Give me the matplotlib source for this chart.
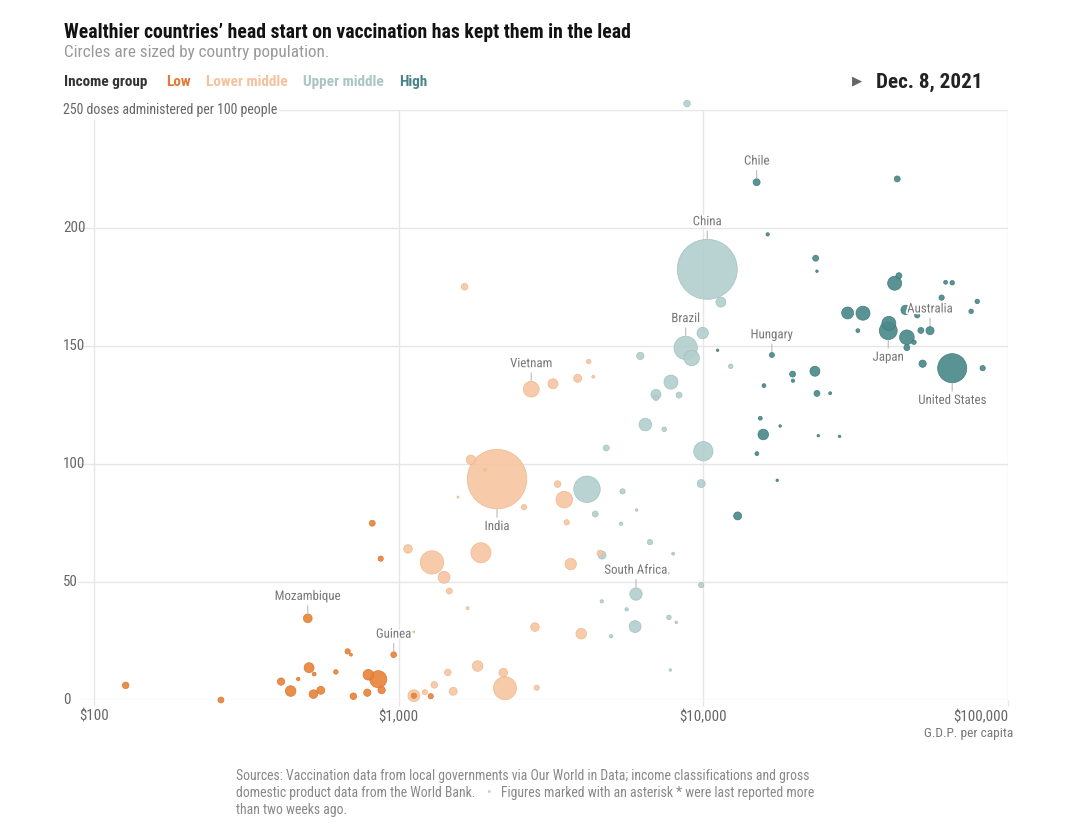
import numpy as np
import matplotlib

matplotlib.use("Agg")
import matplotlib.pyplot as plt
import matplotlib.patheffects as pe
from matplotlib import font_manager
from matplotlib.transforms import blended_transform_factory

# --- data (GDP per capita in $, doses per 100 people, population in millions)
low_gdp = [127, 261, 819, 873, 503, 963, 680, 697, 508, 528, 468, 411, 442, 525, 555, 622, 710, 789, 795, 857, 879, 1122, 1274]
low_doses = [6.2, 0.0, 74.9, 59.9, 34.6, 19.2, 20.6, 19.2, 13.7, 11.0, 8.9, 7.8, 3.8, 2.5, 4.1, 11.9, 1.6, 3.1, 10.7, 8.8, 4.2, 1.8, 1.6]
low_pop = [17, 14, 14, 11, 30, 13, 11, 3.5, 39, 6, 5, 21, 44, 29, 25, 8, 17, 21, 44, 115, 21, 11, 11]

lm_gdp = [2103, 2578, 1073, 1286, 1862, 1409, 1466, 1684, 1120, 2801, 1816, 1449, 1309, 1510, 1122, 1219, 2204,
          2233, 2838, 3973, 3670, 3560, 4580, 1646, 2724, 3210, 3868, 4204, 4353, 1727, 1920, 1566, 3324, 3496]
lm_doses = [93.6, 81.7, 64.0, 58.3, 62.4, 52.0, 46.2, 38.9, 28.9, 30.9, 14.4, 11.7, 6.4, 3.7, 1.8, 3.3, 11.6,
            5.0, 5.2, 28.1, 57.6, 75.3, 62.2, 175.1, 131.7, 134.0, 136.3, 143.4, 137.0, 101.8, 97.6, 86.0, 91.5, 84.9]
lm_pop = [1390, 11, 29, 214, 157, 56, 14, 3.5, 1.6, 29, 44, 17, 17, 25, 56, 11, 29,
          207, 11, 44, 51, 11, 14, 17, 98, 39, 25, 8, 3.5, 35, 3.5, 1.6, 17, 108]

um_gdp = [10300, 11420, 9950, 8750, 9160, 6210, 12300, 7830, 6990, 6990, 8320, 6450, 7440, 4800, 10000, 4150, 9840, 5430,
          6040, 4420, 5370, 6680, 7960, 4650, 6010, 9840, 4640, 5600, 7710, 8150, 5970, 4980, 7790, 8840, 7670]
um_doses = [182.5, 168.6, 155.5, 149.2, 144.9, 145.8, 141.4, 134.7, 129.5, 128.0, 129.2, 116.7, 114.7, 106.8, 105.4, 89.3,
            91.7, 88.4, 80.5, 78.8, 74.7, 66.9, 62.0, 61.4, 44.9, 48.7, 41.8, 38.4, 35.0, 32.9, 31.1, 27.0, 12.7, 252.7, 53.7]
um_pop = [1410, 39, 51, 213, 93, 21, 8, 77, 39, 11, 14, 62, 8, 14, 146, 274, 25, 11,
          2.6, 14, 4.5, 11, 3.5, 25, 60, 11, 4.5, 4.5, 8, 2.6, 56, 4.5, 2.6, 17, 1.6]

hi_gdp = [14960, 16260, 43300, 23370, 23600, 43850, 42460, 62400, 65600, 60540, 79250, 75680, 29760, 33420, 46130,
          50350, 32150, 40640, 40450, 51760, 55460, 46560, 49130, 46560, 52450, 65600, 82570, 11140, 16790, 19630,
          19680, 23240, 15810, 23600, 26080, 15380, 17870, 15730, 14990, 23840, 28000, 17480, 12960]
hi_doses = [219.4, 197.3, 220.8, 187.2, 181.7, 179.8, 176.6, 177.0, 176.8, 170.5, 168.9, 164.7, 164.0, 163.9, 165.3,
            163.0, 156.5, 159.6, 156.5, 156.6, 156.5, 153.7, 151.6, 149.3, 142.5, 140.6, 140.6, 148.2, 146.2, 138.1,
            135.3, 139.3, 133.2, 129.9, 130.0, 119.4, 116.1, 112.5, 104.4, 112.0, 111.7, 93.1, 78.0]
hi_pop = [19, 4.5, 14, 14, 2.6, 14, 77, 6, 8, 11, 8, 8, 56, 77, 35,
          11, 6, 77, 126, 14, 26, 84, 8, 14, 21, 332, 11, 2.6, 10, 14,
          4.5, 39, 6, 14, 3.5, 6, 2.6, 44, 6, 2.6, 2.6, 2.6, 25]

groups = ["Low", "Lower middle", "Upper middle", "High"]
group_colors = ["#e9853d", "#f7c7a2", "#b3cfce", "#4c8a8b"]
edge_colors = ["#d9732d", "#eeb58c", "#9fbebd", "#3d7677"]
legend_colors = ["#e07b39", "#f4c29e", "#a9c6c5", "#4a8486"]

# labelled countries: (name, group index, point index, side)
labels = [
    ("Chile", 3, 0, "above"),
    ("China", 2, 0, "above"),
    ("Brazil", 2, 3, "above"),
    ("Vietnam", 1, 24, "above"),
    ("India", 1, 0, "below"),
    ("Hungary", 3, 28, "above"),
    ("Japan", 3, 18, "below"),
    ("Australia", 3, 20, "above"),
    ("United States", 3, 25, "below"),
    ("South Africa", 2, 24, "above"),
    ("Mozambique", 0, 4, "above"),
    ("Guinea", 0, 5, "above"),
]

x_ticks = [100, 1000, 10000, 100000]
x_tick_labels = ["$100", "$1,000", "$10,000", "$100,000"]
y_ticks = [0, 50, 100, 150, 200, 250]

# --- fonts
available = {f.name for f in font_manager.fontManager.ttflist}


def pick(*names):
    for n in names:
        if n in available:
            return n
    return "DejaVu Sans"


FONT = pick("Liberation Sans Narrow", "Roboto Condensed", "Roboto", "Liberation Sans")
plt.rcParams["font.family"] = [FONT, "DejaVu Sans"]

W, H = 1081, 832
fig = plt.figure(figsize=(W / 100, H / 100), dpi=100)
fig.patch.set_facecolor("white")


def fx(px):
    return px / W


def fy(py):
    return 1 - py / H


ax = fig.add_axes([fx(78), fy(700), fx(1008) - fx(78), fy(110) - fy(700)])
ax.set_xscale("log")
ax.set_xlim(88.6, 100000)
ax.set_ylim(0, 250)
for s in ax.spines.values():
    s.set_visible(False)

GRID = "#e6e6e6"
ax.set_yticks(y_ticks)
ax.set_yticklabels([])
ax.tick_params(axis="y", length=0)
ax.set_xticks(x_ticks)
ax.set_xticklabels(x_tick_labels, fontsize=10.8, color="#666666")
ax.xaxis.set_minor_locator(matplotlib.ticker.NullLocator())
ax.tick_params(axis="x", length=4, color=GRID, width=1, pad=3)
ax.get_xticklabels()[-1].set_horizontalalignment("right")
ax.grid(True, color=GRID, linewidth=1, zorder=0)
ax.set_axisbelow(True)

# y labels, left aligned outside the plot
ytr = blended_transform_factory(fig.transFigure, ax.transData)
for v in y_ticks[:-1]:
    fig.text(fx(63), v, str(v), transform=ytr, ha="left", va="center", fontsize=10.8, color="#666666")
fig.text(fx(63), y_ticks[-1], "250 doses administered per 100 people", transform=ytr, ha="left", va="center",
         fontsize=10, color="#666666", zorder=5,
         bbox=dict(facecolor="white", edgecolor="none", pad=2))

fig.text(fx(1013), fy(733), "G.D.P. per capita", ha="right", va="center", fontsize=9.6, color="#777777")

# --- circles, largest drawn first
SCALE = (2 * 30 * 0.72) ** 2 / 1410  # China ~30 px radius
series = [(low_gdp, low_doses, low_pop), (lm_gdp, lm_doses, lm_pop),
          (um_gdp, um_doses, um_pop), (hi_gdp, hi_doses, hi_pop)]
all_x, all_y, all_s, all_c, all_e = [], [], [], [], []
for gi, (gx, gy, gp) in enumerate(series):
    for x, y, p in zip(gx, gy, gp):
        all_x.append(x)
        all_y.append(y)
        all_s.append(max(p * SCALE, 2.0))
        all_c.append(group_colors[gi])
        all_e.append(edge_colors[gi])
order = np.argsort(all_s)[::-1]
ax.scatter(np.array(all_x)[order], np.array(all_y)[order], s=np.array(all_s)[order],
           c=[all_c[i] for i in order], edgecolors=[all_e[i] for i in order], linewidths=0.5,
           alpha=0.92, zorder=3, clip_on=False)

# --- country labels with short leader lines
halo = [pe.withStroke(linewidth=2.5, foreground="white")]
for name, gi, idx, side in labels:
    gx, gy, gp = series[gi]
    r_pt = np.sqrt(max(gp[idx] * SCALE, 2.0)) / 2
    sign = 1 if side == "above" else -1
    ax.annotate(name, xy=(gx[idx], gy[idx]), xytext=(0, sign * (r_pt + 8)), textcoords="offset points",
                ha="center", va="bottom" if side == "above" else "top", fontsize=9.3, color="#777777",
                zorder=6, path_effects=halo,
                arrowprops=dict(arrowstyle="-", color="#bbbbbb", lw=0.8, shrinkA=0, shrinkB=r_pt + 0.5))

# --- header
fig.text(fx(64), fy(32), "Wealthier countries\u2019 head start on vaccination has kept them in the lead",
         ha="left", va="center", fontsize=14.2, fontweight="bold", color="#121212")
fig.text(fx(64), fy(53), "Circles are sized by country population.", ha="left", va="center",
         fontsize=12.3, color="#999999")

anchor = fig.text(fx(64), fy(82), "Income group", ha="left", va="center", fontsize=11,
                  fontweight="bold", color="#333333")
gap = 13.5
for name, col in zip(groups, legend_colors):
    anchor = ax.annotate(name, xy=(1, 0), xycoords=anchor, xytext=(gap, 0), textcoords="offset points",
                         ha="left", va="bottom", fontsize=11, fontweight="bold", color=col,
                         annotation_clip=False)
    gap = 11

fig.text(fx(862), fy(81), "\u25b6", ha="right", va="center", fontsize=9.5, color="#666666",
         family=["DejaVu Sans"])
fig.text(fx(876), fy(82), "Dec. 8, 2021", ha="left", va="center", fontsize=15.2, fontweight="bold",
         color="#222222")

# --- footer
FOOT = "#888888"
fig.text(fx(236), fy(776), "Sources: Vaccination data from local governments via Our World in Data; "
         "income classifications and gross", ha="left", va="center", fontsize=9.9, color=FOOT)
f2 = fig.text(fx(236), fy(793), "domestic product data from the World Bank.", ha="left", va="center",
              fontsize=9.9, color=FOOT)
b = ax.annotate("\u2022", xy=(1, 0), xycoords=f2, xytext=(8, 0), textcoords="offset points",
                ha="left", va="bottom", fontsize=9.9, color="#cccccc", annotation_clip=False)
ax.annotate("Figures marked with an asterisk * were last reported more", xy=(1, 0), xycoords=b,
            xytext=(7, 0), textcoords="offset points", ha="left", va="bottom", fontsize=9.9, color=FOOT,
            annotation_clip=False)
fig.text(fx(236), fy(810), "than two weeks ago.", ha="left", va="center", fontsize=9.9, color=FOOT)

fig.savefig("out.png", dpi=100, facecolor="white")
